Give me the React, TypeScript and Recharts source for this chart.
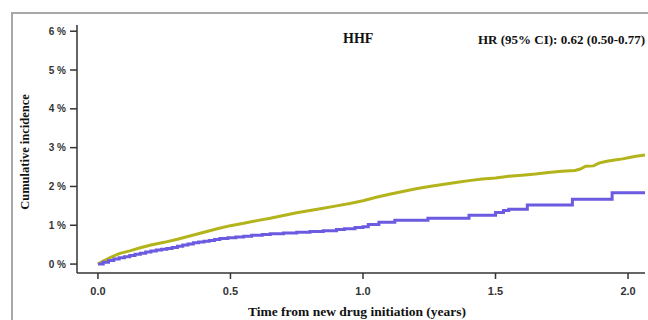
import React from "react";
import { LineChart, Line, XAxis, YAxis } from "recharts";

// Cumulative incidence (%) over years since initiation
const comparatorTimes = [0, 0.02, 0.05, 0.08, 0.12, 0.16, 0.2, 0.25, 0.3, 0.35, 0.4, 0.45, 0.5, 0.55, 0.6, 0.65, 0.7, 0.75, 0.8, 0.85, 0.9, 0.95, 1.0, 1.05, 1.1, 1.15, 1.2, 1.25, 1.3, 1.35, 1.4, 1.45, 1.5, 1.55, 1.6, 1.65, 1.7, 1.75, 1.8, 1.82, 1.84, 1.87, 1.89, 1.92, 1.95, 1.98, 2.0, 2.03, 2.064];
const comparatorValues = [0, 0.08, 0.18, 0.27, 0.34, 0.42, 0.49, 0.56, 0.64, 0.73, 0.82, 0.91, 0.99, 1.05, 1.12, 1.18, 1.25, 1.32, 1.38, 1.44, 1.5, 1.56, 1.63, 1.72, 1.8, 1.87, 1.94, 2.0, 2.05, 2.1, 2.15, 2.19, 2.22, 2.26, 2.29, 2.32, 2.36, 2.39, 2.41, 2.45, 2.52, 2.53, 2.6, 2.65, 2.68, 2.71, 2.74, 2.78, 2.81];

const newDrugTimes = [0, 0.02, 0.04, 0.06, 0.08, 0.1, 0.12, 0.14, 0.16, 0.18, 0.2, 0.22, 0.24, 0.26, 0.28, 0.3, 0.32, 0.34, 0.36, 0.38, 0.4, 0.42, 0.44, 0.46, 0.49, 0.52, 0.55, 0.58, 0.62, 0.65, 0.7, 0.75, 0.8, 0.85, 0.9, 0.93, 0.97, 1.0, 1.02, 1.06, 1.12, 1.245, 1.4, 1.5, 1.53, 1.55, 1.62, 1.79, 1.94, 2.064];
const newDrugValues = [0, 0.05, 0.09, 0.13, 0.16, 0.19, 0.22, 0.25, 0.28, 0.31, 0.34, 0.36, 0.38, 0.4, 0.43, 0.46, 0.49, 0.52, 0.55, 0.57, 0.59, 0.61, 0.63, 0.66, 0.68, 0.7, 0.72, 0.74, 0.76, 0.78, 0.8, 0.82, 0.84, 0.86, 0.89, 0.91, 0.94, 0.96, 1.02, 1.08, 1.13, 1.18, 1.26, 1.33, 1.38, 1.41, 1.52, 1.67, 1.84, 1.84];

const xTicks = [0, 0.5, 1, 1.5, 2];
const yTicks = [0, 1, 2, 3, 4, 5, 6];

const comparatorData = comparatorTimes.map((t, i) => ({ t, v: comparatorValues[i] }));
const newDrugData = newDrugTimes.map((t, i) => ({ t, v: newDrugValues[i] }));

const serif = "'Liberation Serif', 'Times New Roman', serif";
const sans = "'Liberation Sans', Arial, sans-serif";

export default function App() {
  return (
    <div style={{ position: "absolute", left: 0, top: 0, width: 648, height: 320, background: "#fff", overflow: "hidden" }}>
      <div
        style={{
          position: "absolute",
          left: 11,
          top: 12,
          width: 660,
          height: 340,
          borderTop: "2px solid #a8a8a8",
          borderLeft: "2px solid #a8a8a8",
        }}
      />
      <LineChart
        width={648}
        height={320}
        margin={{ top: 25, right: 3, bottom: 17, left: 0 }}
        style={{ position: "absolute", left: 0, top: 0 }}
      >
        <XAxis
          dataKey="t"
          type="number"
          domain={[-0.079, 2.064]}
          allowDataOverflow
          ticks={xTicks}
          tickFormatter={(v: number) => v.toFixed(1)}
          height={30}
          tickSize={6}
          tickMargin={8}
          stroke="#333"
          strokeWidth={1.5}
          tick={{ fill: "#333", fontSize: 11, fontFamily: sans, fontWeight: 700 }}
          label={{
            value: "Time from new drug initiation (years)",
            position: "insideBottom",
            offset: -13,
            dx: -4,
            fill: "#111",
            fontSize: 13.5,
            fontFamily: serif,
            fontWeight: 700,
          }}
        />
        <YAxis
          type="number"
          domain={[-0.23, 6.16]}
          allowDataOverflow
          ticks={yTicks}
          tickFormatter={(v: number) => `${v} %`}
          width={77}
          tickSize={7}
          tickMargin={4}
          stroke="#333"
          strokeWidth={1.5}
          tick={{ fill: "#333", fontSize: 10, fontFamily: sans, fontWeight: 700 }}
          label={{
            value: "Cumulative incidence",
            angle: -90,
            position: "insideLeft",
            offset: 25,
            dy: 3,
            fill: "#111",
            fontSize: 12.5,
            fontFamily: serif,
            fontWeight: 700,
            style: { textAnchor: "middle" },
          }}
        />
        <Line
          data={comparatorData}
          dataKey="v"
          type="linear"
          stroke="#b3b31c"
          strokeWidth={3}
          dot={false}
          isAnimationActive={false}
        />
        <Line
          data={newDrugData}
          dataKey="v"
          type="stepAfter"
          stroke="#6b5be0"
          strokeWidth={3}
          dot={false}
          isAnimationActive={false}
        />
      </LineChart>
      <div
        style={{
          position: "absolute",
          left: 343,
          top: 31,
          fontFamily: serif,
          fontWeight: 700,
          fontSize: 14,
          color: "#111",
        }}
      >
        HHF
      </div>
      <div
        style={{
          position: "absolute",
          left: 478,
          top: 32,
          fontFamily: serif,
          fontWeight: 700,
          fontSize: 13,
          color: "#111",
          whiteSpace: "nowrap",
        }}
      >
        HR (95% CI): 0.62 (0.50-0.77)
      </div>
    </div>
  );
}
